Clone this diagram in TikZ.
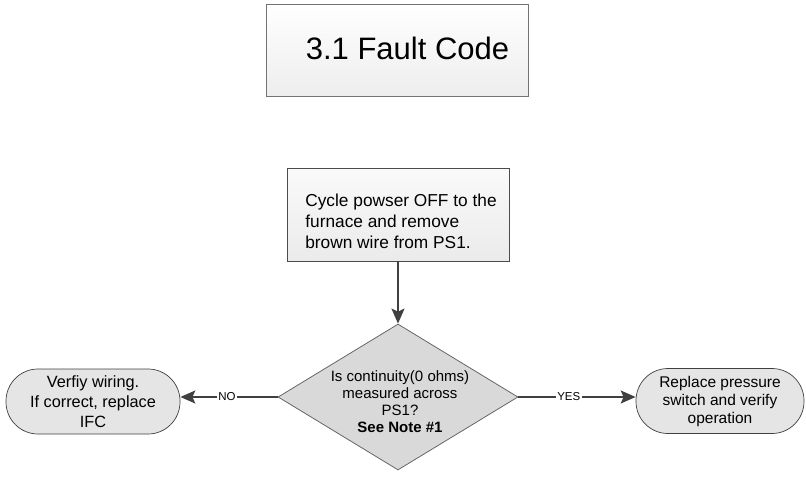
\documentclass[tikz,border=0pt]{standalone}
\usepackage{fontspec}
\setmainfont{Liberation Sans}
\usetikzlibrary{shapes.geometric,arrows.meta}
\definecolor{linegray}{HTML}{404040}
\begin{document}
\begin{tikzpicture}[x=1pt,y=-1pt,
  titlebox/.style={draw=black!55, top color=white, bottom color=black!7, line width=0.8pt, minimum width=262pt, minimum height=92pt, inner sep=0pt},
  procbox/.style={draw=black!70, top color=black!2, bottom color=black!8, line width=0.8pt, minimum width=222pt, minimum height=93pt, inner sep=0pt},
  decbox/.style={draw=black!60, fill=black!15, shape=diamond, minimum width=240pt, minimum height=146pt, inner sep=0pt, line width=0.8pt},
  termbox/.style={draw=black!75, fill=black!10, rounded corners=32pt, minimum height=65pt, inner sep=0pt, line width=0.7pt, align=center},
  flow/.style={draw=linegray, line width=1.7pt, -{Stealth[length=15pt,width=13pt,inset=3pt]}},
  lbl/.style={fill=white, text=black, font=\fontsize{11.5}{13}\selectfont, inner xsep=1.5pt, inner ysep=1pt},
]
\useasboundingbox (0,0) rectangle (806,479);
\node[titlebox] (title) at (397,50) {};
\node[font=\fontsize{31}{37}\selectfont, inner sep=0pt] (titletext) at (407.5,48.5) {3.1 Fault Code};

\node[procbox] (proc) at (398,214.5) {};
\node[font=\fontsize{17.3}{21}\selectfont, align=left, inner sep=0pt] (proctext) at (401,221) {Cycle powser OFF to the\\furnace and remove\\brown wire from PS1.};

\node[decbox] (dec) at (398,397) {};
\node[font=\fontsize{15}{17}\selectfont, align=center, inner sep=0pt] (dectext) at (400,402) {Is continuity(0 ohms)\\measured across\\PS1?\\\textbf{See Note \#1}};

\node[termbox, minimum width=174pt, font=\fontsize{16.3}{20}\selectfont] (noterm) at (93,401.5) {Verfiy wiring.\\If correct, replace\\IFC};
\node[termbox, minimum width=168pt, font=\fontsize{15.5}{18}\selectfont] (yesterm) at (720,401) {Replace pressure\\switch and verify\\operation};

\draw[flow] (proc.south) -- (dec.north);
\draw[flow] (dec.west) -- node[lbl, pos=0.52]{NO} (dec.west -| noterm.east);
\draw[flow] (dec.east) -- node[lbl, pos=0.43]{YES} (dec.east -| yesterm.west);
\end{tikzpicture}
\end{document}
